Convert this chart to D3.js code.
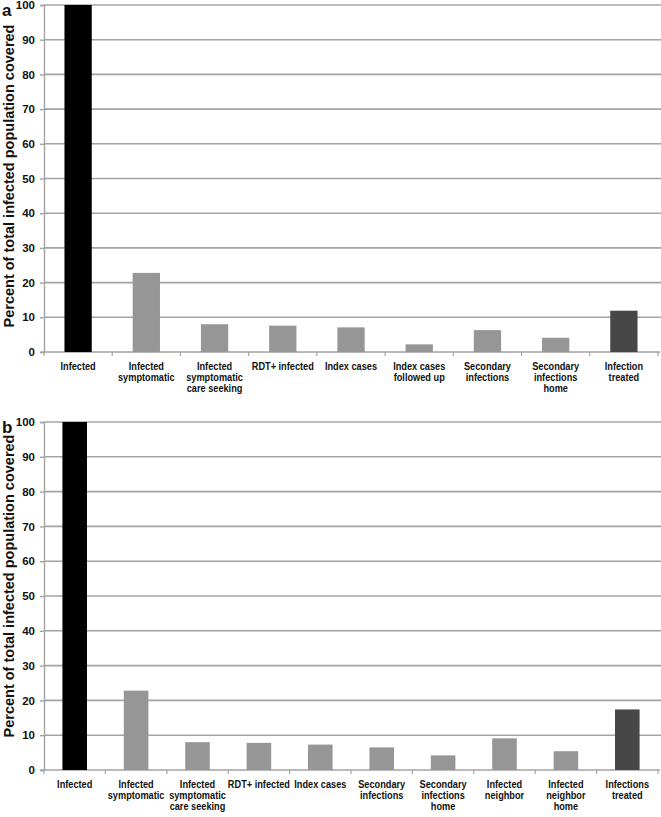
<!DOCTYPE html>
<html><head><meta charset="utf-8">
<script src="https://cdn.jsdelivr.net/npm/d3@7"></script>
<style>
body{margin:0;background:#fff;}
svg text{font-family:"Liberation Sans",sans-serif;font-weight:bold;fill:#111;}
</style></head>
<body><svg id="c" width="661" height="817"></svg>
<script>
const yTicks = [0,10,20,30,40,50,60,70,80,90,100];
const catsA = ["Infected","Infected|symptomatic","Infected|symptomatic|care seeking","RDT+ infected","Index cases","Index cases|followed up","Secondary|infections","Secondary|infections|home","Infection|treated"];
const valsA = [100,22.8,8.0,7.6,7.1,2.2,6.3,4.1,11.9];
const colorsA = ["#000000","#969696","#969696","#969696","#969696","#969696","#969696","#969696","#474747"];
const catsB = ["Infected","Infected|symptomatic","Infected|symptomatic|care seeking","RDT+ infected","Index cases","Secondary|infections","Secondary|infections|home","Infected|neighbor","Infected|neighbor|home","Infections|treated"];
const valsB = [100,22.8,8.0,7.8,7.3,6.5,4.2,9.1,5.4,17.4];
const colorsB = ["#000000","#969696","#969696","#969696","#969696","#969696","#969696","#969696","#969696","#474747"];
const yTitle = "Percent of total infected population covered";

const svg = d3.select("#c");

function panel(letter, cats, vals, colors, top, bottom, titleY){
  const left = 44, right = 658;
  const g = svg.append("g");
  const x = d3.scaleBand().domain(cats).range([left,right]).paddingInner(0.6).paddingOuter(0.3);
  const y = d3.scaleLinear().domain([0,100]).range([bottom,top]);
  g.selectAll("line.grid").data(yTicks.filter(d=>d>0)).join("line")
    .attr("x1",left).attr("x2",right+3).attr("y1",d=>y(d)).attr("y2",d=>y(d))
    .attr("stroke","#a3a3a3").attr("stroke-width",1.6);
  const ya = g.append("g").attr("transform",`translate(${left},0)`)
    .call(d3.axisLeft(y).tickValues(yTicks).tickSize(4).tickPadding(5));
  ya.select(".domain").attr("stroke","#a3a3a3").attr("stroke-width",1.4);
  ya.selectAll(".tick line").attr("stroke","#a3a3a3").attr("stroke-width",1.4);
  ya.selectAll("text").attr("font-size",11.5).style("font-family","'Liberation Sans',sans-serif").style("font-weight","bold").attr("fill","#111");
  const bounds = d3.range(cats.length+1).map(i=>left + i*(right-left)/cats.length);
  g.append("line").attr("x1",left-3).attr("x2",right+2).attr("y1",bottom).attr("y2",bottom)
    .attr("stroke","#a3a3a3").attr("stroke-width",1.4);
  g.selectAll("line.xt").data(bounds).join("line")
    .attr("x1",d=>d).attr("x2",d=>d).attr("y1",bottom).attr("y2",bottom+4)
    .attr("stroke","#a3a3a3").attr("stroke-width",1.2);
  g.selectAll("rect").data(cats).join("rect")
    .attr("x",d=>x(d)).attr("width",x.bandwidth())
    .attr("y",(d,i)=>y(vals[i])).attr("height",(d,i)=>bottom-y(vals[i]))
    .attr("fill",(d,i)=>colors[i]);
  cats.forEach(c=>{
    const t = g.append("text").attr("text-anchor","middle").attr("font-size",11.5)
      .attr("transform",`translate(${x(c)+x.bandwidth()/2},${bottom+18}) scale(0.8,1)`);
    c.split("|").forEach((ln,j)=>{
      t.append("tspan").attr("x",0).attr("dy",j===0?0:11).text(ln);
    });
  });
  svg.append("text").attr("transform",`translate(14,${titleY}) rotate(-90)`)
    .attr("text-anchor","middle").attr("font-size",14.5)
    .text(yTitle);
  svg.append("text").attr("x",2).attr("y",top+11).attr("font-size",17).text(letter);
}
panel("a",catsA,valsA,colorsA,5,352,176);
panel("b",catsB,valsB,colorsB,422,770,586);
</script></body></html>
